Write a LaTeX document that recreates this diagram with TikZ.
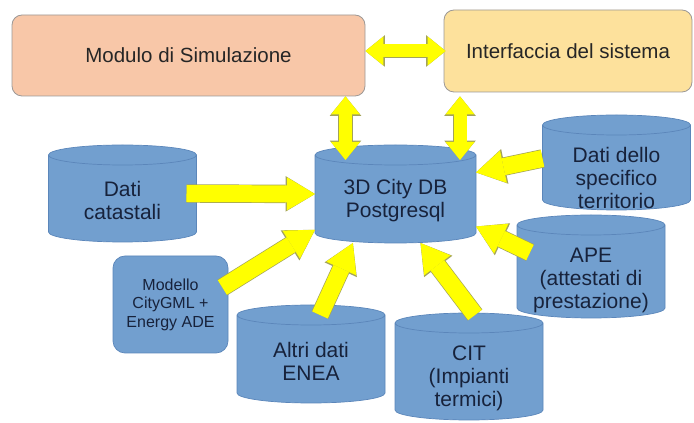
\documentclass[tikz,border=0pt]{standalone}
\usepackage{fontspec}
\setmainfont{Liberation Sans}
\usetikzlibrary{arrows.meta,calc,positioning}

\definecolor{dbblue}{HTML}{729FCF}
\definecolor{dbline}{HTML}{5B86BA}
\definecolor{dbtext}{HTML}{17223B}
\definecolor{simfill}{HTML}{F8C7A8}
\definecolor{guifill}{HTML}{FDE19C}
\definecolor{boxline}{HTML}{9C9896}
\definecolor{arrfill}{HTML}{FFFF00}
\definecolor{arrline}{HTML}{A3A35A}

\tikzset{
  topbox/.style={rectangle, rounded corners=10pt, draw=boxline, line width=0.8pt,
    font=\fontsize{20.5}{24}\selectfont, text=black!85},
  dbslot/.style={rectangle, inner sep=0pt, outer sep=0pt, minimum width=148pt},
  dbpaint/.style={draw=dbline, line width=0.7pt, fill=dbblue},
  dbtxt/.style={font=\fontsize{21}{23}\selectfont, text=dbtext, align=center},
  srcbox/.style={rectangle, rounded corners=12pt, draw=dbline, line width=0.7pt,
    fill=dbblue, font=\fontsize{16}{18.5}\selectfont, text=dbtext, align=center,
    minimum width=115pt, minimum height=97pt},
  feed/.style={draw=arrfill, line width=17pt,
    -{Triangle[width=33pt,length=28pt,line width=0pt]},
    preaction={draw=arrline, line width=18.4pt,
      -{Triangle[width=35.5pt,length=29.4pt,line width=0pt]}}},
  link/.style={draw=arrfill, line width=13pt,
    {Triangle[width=29pt,length=18pt,line width=0pt]}-{Triangle[width=29pt,length=18pt,line width=0pt]},
    preaction={draw=arrline, line width=14.4pt,
      {Triangle[width=31.5pt,length=19.4pt,line width=0pt]}-{Triangle[width=31.5pt,length=19.4pt,line width=0pt]}}},
}

% drum drawn round a db node, with the front edge of its top face
\newcommand{\dbdrum}[1]{%
  \filldraw[dbpaint] let \p1=(#1.north west), \p2=(#1.south east), \n1={(\x2-\x1)/2} in
    (\x1,\y1-10pt) -- (\x1,\y2+10pt) arc[start angle=180, end angle=360, x radius=\n1, y radius=10pt]
    -- (\x2,\y1-10pt) arc[start angle=0, end angle=180, x radius=\n1, y radius=10pt] -- cycle
    (\x1,\y1-10pt) arc[start angle=180, end angle=360, x radius=\n1, y radius=10pt];}

\begin{document}
\begin{tikzpicture}[x=1pt,y=1pt]
\useasboundingbox (0,0) rectangle (694,423);

% upper modules
\node[topbox, fill=simfill, minimum width=353pt, minimum height=81pt] (sim) at (188.5,367.5) {Modulo di Simulazione};
\node[topbox, fill=guifill, minimum width=248pt, minimum height=82pt] (gui) at (568,372) {Interfaccia del sistema};

% data sources
\node[dbslot, minimum width=161pt, minimum height=98pt] (db) at (395.5,229) {};
\node[dbslot, minimum height=97pt] (catasto) at (122.5,229.5) {};
\node[dbslot, minimum height=95pt] (territorio) at (616.5,260.5) {};
\node[dbslot, minimum height=103pt] (ape) at (591,156.5) {};
\node[dbslot, minimum height=98pt] (enea) at (311,69) {};
\node[dbslot, minimum height=107pt] (cit) at (469,56.5) {};
\foreach \c in {db,catasto,territorio,ape,enea,cit} {\dbdrum{\c}}
\node[srcbox] (gml) at (170.5,118.5) {Modello\\CityGML +\\Energy ADE};

% flows into the db
\draw[feed] ([xshift=-10pt]catasto.east) -- (db.west);
\draw[feed] ([yshift=4pt]territorio.west) -- (db.15);
\draw[feed] ([shift={(13pt,14pt)}]ape.west) -- (db.-22);
\draw[feed] ([shift={(-6pt,17pt)}]gml.east) -- (db.204);
\draw[feed] ([shift={(9pt,-10pt)}]enea.north) -- (db.229);
\draw[feed] ([shift={(6pt,-2pt)}]cit.north) -- (db.297);

% links between modules and db
\coordinate (simport) at ([shift={(-50pt,-15pt)}]db.north);
\coordinate (guiport) at ([shift={(64.5pt,-15pt)}]db.north);
\draw[link] (sim.east |- gui.west) -- ([xshift=2pt]gui.west);
\draw[link] (simport |- sim.south) -- (simport);
\draw[link] ([yshift=-4pt]guiport |- gui.south) -- (guiport);

% labels
\node[dbtxt] (db-t) at ([yshift=-7pt]db.center) {3D City DB\\Postgresql};
\node[dbtxt] (catasto-t) at ([yshift=-6.5pt]catasto.center) {Dati\\catastali};
\node[dbtxt] (territorio-t) at ([yshift=-15pt]territorio.center) {Dati dello\\specifico\\territorio};
\node[dbtxt] (ape-t) at ([yshift=-13.5pt]ape.center) {APE\\(attestati di\\prestazione)};
\node[dbtxt] (enea-t) at ([yshift=-7pt]enea.center) {Altri dati\\ENEA};
\node[dbtxt] (cit-t) at ([yshift=-11.5pt]cit.center) {CIT\\(Impianti\\termici)};
\end{tikzpicture}
\end{document}
